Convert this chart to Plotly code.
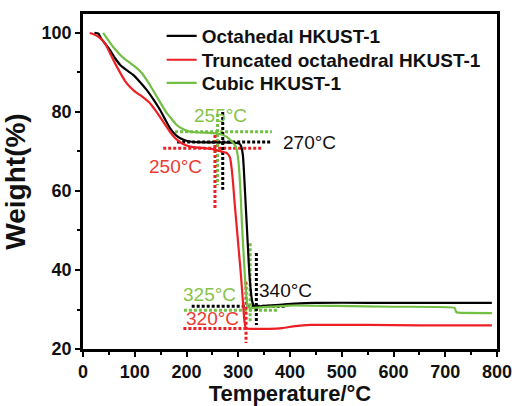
import plotly.graph_objects as go

# ---- data ----
T_oct = [22, 30, 35, 52, 62, 72, 85, 97, 110, 123, 136, 149, 160, 168, 178, 187, 200, 213, 240, 270, 295,
         302, 305, 309, 311, 313, 315, 317, 319, 321, 324, 327, 331, 350, 380, 410, 450, 550, 650, 790]
W_oct = [100, 99.8, 98.6, 95.7, 93.6, 91.9, 90.5, 89.4, 87.6, 85.6, 83.2, 80.5, 77.8, 75.9, 74.3, 73.4, 72.7,
         72.4, 72.3, 72.3, 72.2, 72.0, 71.5, 69, 65, 60, 55, 50, 45, 40, 35, 32, 30.8, 30.9, 31.2, 31.5, 31.7,
         31.7, 31.7, 31.7]

T_tr = [13, 22, 33, 43, 52, 62, 72, 81, 91, 100, 110, 120, 129, 139, 149, 158, 168, 178, 187, 200, 213, 230,
        250, 265, 278, 284, 287, 290, 293, 297, 301, 305, 309, 312, 315, 340, 360, 385, 410, 440, 550, 650, 790]
W_tr = [100, 99.6, 98.7, 97.3, 94.9, 92.3, 89.9, 87.9, 86.3, 85.2, 84.3, 83.3, 82.3, 80.6, 78.7, 76.9, 75.0,
        73.4, 72.4, 71.5, 71.1, 70.9, 70.6, 70.1, 69.6, 68.5, 66, 62, 57, 51, 45, 39, 32, 27, 25.2, 25.1, 25.1,
        25.3, 25.8, 26.1, 26.1, 26.0, 26.0]

T_cub = [39, 48, 58, 68, 78, 91, 104, 114, 123, 133, 143, 152, 162, 172, 181, 194, 207, 225, 245, 262, 278,
         290, 296, 300, 303, 305, 307, 310, 313, 316, 319, 325, 350, 400, 490, 600, 718, 721, 725, 790]
W_cub = [100, 98.3, 96.5, 95.0, 93.7, 92.4, 91.1, 89.8, 88.1, 86.0, 83.8, 81.8, 79.7, 78.1, 76.7, 75.6, 75.0,
         74.8, 74.7, 74.5, 73.7, 72.2, 71, 68, 63, 58, 52, 45, 38, 33, 30.6, 30.4, 30.6, 31.0, 30.9, 30.7,
         30.4, 29.4, 29.2, 29.1]

series_names = ["Octahedal HKUST-1", "Truncated octahedral HKUST-1", "Cubic HKUST-1"]
series_T = [T_oct, T_tr, T_cub]
series_W = [W_oct, W_tr, W_cub]

# guide (dotted) lines: (x0, x1, y0, y1, series index)
guide_x0 = [178, 182, 155, 270, 260, 255, 210, 195, 194, 335, 323, 315]
guide_x1 = [365, 365, 345, 270, 260, 255, 390, 375, 316, 335, 323, 315]
guide_y0 = [75.0, 72.4, 70.8, 80.0, 79.5, 74.2, 30.8, 29.8, 25.2, 44.3, 46.8, 37.0]
guide_y1 = [75.0, 72.4, 70.8, 60.3, 61.5, 55.7, 30.8, 29.8, 25.2, 26.1, 26.8, 21.5]
guide_s = [2, 0, 1, 0, 2, 1, 0, 2, 1, 0, 2, 1]

label_text = ["255°C", "270°C", "250°C", "340°C", "325°C", "320°C"]
label_x = [265, 437, 178, 392, 245, 251]
label_y = [79.2, 72.2, 66.3, 34.7, 33.7, 27.8]
label_s = [2, 0, 1, 0, 2, 1]

line_colors = ["#000000", "#ec2024", "#72bf44"]
text_colors = ["#111111", "#ec3b2f", "#86c34a"]

FONT = "Liberation Sans, Arial, sans-serif"

fig = go.Figure()

# guides first (below curves)
for x0, x1, y0, y1, s in zip(guide_x0, guide_x1, guide_y0, guide_y1, guide_s):
    fig.add_trace(go.Scatter(x=[x0, x1], y=[y0, y1], mode="lines", showlegend=False,
                             hoverinfo="skip",
                             line=dict(color=line_colors[s], width=3, dash="3px,2px")))

legend_ids = ["legend", "legend2", "legend3"]
for name, T, W, c, lg in zip(series_names, series_T, series_W, line_colors, legend_ids):
    fig.add_trace(go.Scatter(x=T, y=W, mode="lines", name=name, legend=lg,
                             line=dict(color=c, width=2.2, shape="spline", smoothing=0.4)))

for t, x, y, s in zip(label_text, label_x, label_y, label_s):
    fig.add_annotation(x=x, y=y, text=t, showarrow=False,
                       font=dict(family=FONT, size=19, color=text_colors[s]))

axis_common = dict(showline=True, linecolor="black", linewidth=2.5, mirror=True,
                   ticks="outside", tickwidth=2, ticklen=5, tickcolor="black",
                   showgrid=False, zeroline=False, automargin=False,
                   tickfont=dict(family=FONT, size=18, color="#111111", weight="bold"))

fig.update_xaxes(range=[0, 800], dtick=100, tick0=0,
                 minor=dict(ticks="outside", ticklen=3, tickwidth=2, dtick=50, tickcolor="black"),
                 title=dict(text="Temperature/°C",
                            font=dict(family=FONT, size=22, color="#111111", weight="bold")),
                 **axis_common)
fig.update_yaxes(range=[20, 104.8], dtick=20, tick0=20,
                 minor=dict(ticks="outside", ticklen=3, tickwidth=2, dtick=10, tickcolor="black"),
                 title=dict(text="Weight(%)",
                            font=dict(family=FONT, size=28, color="#111111", weight="bold")),
                 **axis_common)

leg_common = dict(xanchor="left", yanchor="middle", bgcolor="rgba(0,0,0,0)", borderwidth=0,
                  font=dict(family=FONT, size=19, color="#111111", weight="bold"))
fig.update_layout(
    width=514, height=406,
    margin=dict(l=83, r=17, t=14, b=57),
    plot_bgcolor="white", paper_bgcolor="white",
    font=dict(family=FONT),
    legend=dict(x=0.19, y=0.934, **leg_common),
    legend2=dict(x=0.19, y=0.863, **leg_common),
    legend3=dict(x=0.19, y=0.794, **leg_common),
)

fig.write_html("out.html")
